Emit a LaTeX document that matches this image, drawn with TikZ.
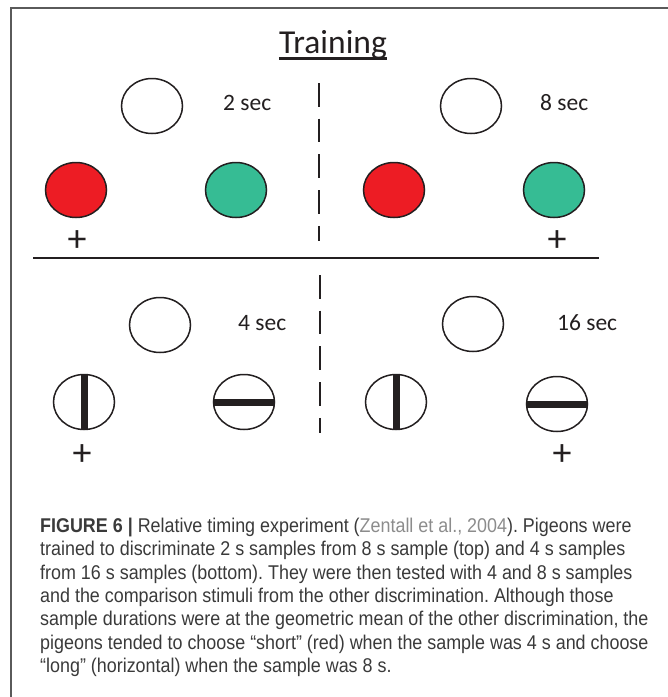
\documentclass[tikz,border=0pt]{standalone}
\usepackage{fontspec}
\setmainfont{Liberation Sans}[FakeStretch=0.9]
\newfontfamily\calfont{Carlito}
\usetikzlibrary{shapes.geometric}
\definecolor{redfill}{HTML}{ED1C24}
\definecolor{greenfill}{HTML}{36BC94}
\definecolor{inkcol}{HTML}{231F20}
\definecolor{framecol}{HTML}{5A5A5A}
\definecolor{captxt}{HTML}{3A3A3A}
\definecolor{citetxt}{HTML}{8C8C8C}
\frenchspacing

\begin{document}
\begin{tikzpicture}[x=1pt,y=-1pt,
                    ovalND/.style={ellipse,
                                   draw=inkcol,
                                   line width=1.5pt,
                                   minimum width=61pt,
                                   minimum height=55pt,
                                   inner sep=0pt,
                                   fill=white},
                    secND/.style={anchor=base west,
                                  inner sep=0pt,
                                  text=inkcol,
                                  font=\calfont\fontsize{23.5}{28}\selectfont},
                    plusND/.style={inner sep=0pt,
                                   text=inkcol,
                                   font=\calfont\fontsize{38}{40}\selectfont},
                    barND/.style={draw=inkcol, line width=7pt},
                    sepND/.style={draw=inkcol, line width=2.6pt},
                    dashND/.style={draw=inkcol, line width=2.8pt,
                                   dash pattern=on 23.5pt off 12.2pt}]
        \useasboundingbox (0,0) rectangle (668,697);
        \draw[framecol, line width=1.5pt] (668,8) -- (11,8) -- (11,697);

        \node[anchor=base, inner sep=0pt, text=inkcol,
              font=\calfont\fontsize{33.5}{36}\selectfont](ttl) at (333,53.3) {Training};
        \draw[inkcol, line width=2.5pt] ([yshift=-5.4pt]ttl.base west) -- ([yshift=-5.4pt]ttl.base east);

        \node[ovalND](sampTL) at (152,106) {};
        \node[ovalND](sampTR) at (471,106) {};
        \node[secND](secTL) at (223,110) {2 sec};
        \node[secND](secTR) at (540,110) {8 sec};
        \node[ovalND, fill=redfill](redL)   at (76,190)  {};
        \node[ovalND, fill=greenfill](grnL) at (236,190) {};
        \node[ovalND, fill=redfill](redR)   at (394,190) {};
        \node[ovalND, fill=greenfill](grnR) at (554,190) {};
        \node[plusND](plusTL) at (77,241)  {+};
        \node[plusND](plusTR) at (557,241) {+};

        \coordinate (sepW) at (33,258);
        \coordinate (sepE) at (599,258);
        \path[sepND] (sepW) -- (sepE);

        \coordinate (dashTtop) at (319,83);
        \coordinate (dashTbot) at (319,241);
        \coordinate (dashBtop) at (320,275);
        \coordinate (dashBbot) at (320,433);
        \path[dashND] (dashTtop) -- (dashTbot);
        \path[dashND] (dashBtop) -- (dashBbot);

        \node[ovalND](sampBL) at (160,325) {};
        \node[ovalND](sampBR) at (473,324) {};
        \node[secND](secBL) at (238,330) {4 sec};
        \node[secND](secBR) at (557,330) {16 sec};
        \node[ovalND](vertL) at (84,402)  {};
        \node[ovalND](horL)  at (244,402) {};
        \node[ovalND](vertR) at (396,402) {};
        \node[ovalND](horR)  at (557,404) {};
        \path[barND]
            (vertL.north) -- (vertL.south)
            (horL.west)   -- (horL.east)
            (vertR.north) -- (vertR.south)
            (horR.west)   -- (horR.east);
        \node[plusND](plusBL) at (82,455)  {+};
        \node[plusND](plusBR) at (562,455) {+};

        \node[anchor=north west, inner sep=0pt, align=left, text=captxt,
              font=\fontsize{19.9}{23.3}\selectfont](cap) at (40,518)
            {\textbf{FIGURE 6 |} Relative timing experiment ({\color{citetxt}Zentall et al., 2004}). Pigeons were\\
             trained to discriminate 2 s samples from 8 s sample (top) and 4 s samples\\
             from 16 s samples (bottom). They were then tested with 4 and 8 s samples\\
             and the comparison stimuli from the other discrimination. Although those\\
             sample durations were at the geometric mean of the other discrimination, the\\
             pigeons tended to choose “short” (red) when the sample was 4 s and choose\\
             “long” (horizontal) when the sample was 8 s.};
    \end{tikzpicture}
\end{document}
